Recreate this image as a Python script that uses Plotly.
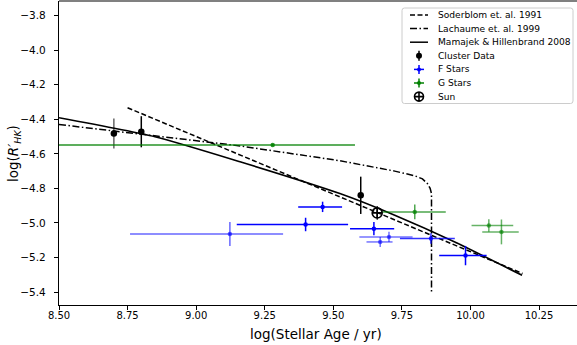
import plotly.graph_objects as go

# ---------------- data ----------------
sod_age = [8.75, 10.19]
sod_logr = [-4.333, -5.293]

lach_age = [8.50, 9.16, 9.524, 9.645, 9.724, 9.797, 9.825, 9.843, 9.853, 9.858, 9.858]
lach_logr = [-4.430, -4.554, -4.640, -4.675, -4.700, -4.727, -4.745, -4.772, -4.800, -4.830, -5.410]

mam_age = [8.50, 8.85, 9.16, 9.524, 9.724, 9.943, 10.188]
mam_logr = [-4.391, -4.501, -4.646, -4.830, -4.955, -5.110, -5.303]

cluster_age = [8.70, 8.80, 9.60]
cluster_logr = [-4.482, -4.472, -4.840]
cluster_err = [0.087, 0.090, 0.108]
cluster_alpha = [0.6, 1.0, 1.0]

f_age = [9.123, 9.399, 9.461, 9.648, 9.703, 9.671, 9.856, 9.982]
f_logr = [-5.064, -5.009, -4.907, -5.033, -5.081, -5.110, -5.090, -5.189]
f_age_lo = [0.364, 0.251, 0.089, 0.087, 0.108, 0.050, 0.113, 0.096]
f_age_hi = [0.194, 0.155, 0.071, 0.074, 0.086, 0.045, 0.087, 0.077]
f_logr_err = [0.070, 0.039, 0.030, 0.039, 0.030, 0.029, 0.030, 0.056]
f_alpha = [0.6, 1.0, 1.0, 1.0, 0.55, 0.55, 0.8, 1.0]

g_age = [9.279, 9.797, 10.067, 10.113]
g_logr = [-4.548, -4.936, -5.015, -5.052]
g_age_lo = [0.900, 0.121, 0.063, 0.070]
g_age_hi = [0.300, 0.113, 0.089, 0.063]
g_logr_err = [0.004, 0.043, 0.036, 0.072]
g_alpha = [0.85, 0.7, 0.6, 0.6]

sun_age = [9.66]
sun_logr = [-4.942]
sun_err = [0.04]

x_ticks = [8.50, 8.75, 9.00, 9.25, 9.50, 9.75, 10.00, 10.25]
y_ticks = [-3.8, -4.0, -4.2, -4.4, -4.6, -4.8, -5.0, -5.2, -5.4]

legend_labels = ["Soderblom et. al. 1991", "Lachaume et. al. 1999",
                 "Mamajek & Hillenbrand 2008", "Cluster Data",
                 "F Stars", "G Stars", "Sun"]

# ---------------- layout geometry ----------------
W, H = 577, 345
ML, MR, MT, MB = 59, 0, 1, 40
PX_PER_X = 274.3
PX_PER_Y = 172.7
X0 = 8.5
X1 = X0 + (W - ML - MR) / PX_PER_X
YT = -3.8 + (15.7 - MT) / PX_PER_Y
YB = YT - (H - MT - MB) / PX_PER_Y

FONT = "DejaVu Sans"
DASH = "5px,2.5px"
DASHDOT = "7px,2.5px,1.5px,2.5px"


def rgba(r, g, b, a):
    return f"rgba({r},{g},{b},{a})"


def px_to_paper(px, py):
    return (px - ML) / (W - ML - MR), (H - MB - py) / (H - MT - MB)


fig = go.Figure()

fig.add_trace(go.Scatter(x=sod_age, y=sod_logr, mode="lines",
                         line=dict(color="black", width=1.5, dash=DASH),
                         showlegend=False))
fig.add_trace(go.Scatter(x=lach_age, y=lach_logr, mode="lines",
                         line=dict(color="black", width=1.5, dash=DASHDOT),
                         showlegend=False))
fig.add_trace(go.Scatter(x=mam_age, y=mam_logr, mode="lines",
                         line=dict(color="black", width=1.6, shape="spline", smoothing=0.6),
                         showlegend=False))

for i in range(len(cluster_age)):
    fig.add_trace(go.Scatter(
        x=[cluster_age[i]], y=[cluster_logr[i]], mode="markers",
        marker=dict(color="black", size=6.5),
        error_y=dict(type="data", array=[cluster_err[i]], width=0, thickness=1.5,
                     color=rgba(0, 0, 0, cluster_alpha[i])),
        showlegend=False))

for i in range(len(f_age)):
    c = rgba(0, 0, 255, f_alpha[i])
    fig.add_trace(go.Scatter(
        x=[f_age[i]], y=[f_logr[i]], mode="markers",
        marker=dict(color=c, size=4.5),
        error_x=dict(type="data", symmetric=False, array=[f_age_hi[i]],
                     arrayminus=[f_age_lo[i]], width=0, thickness=1.5, color=c),
        error_y=dict(type="data", array=[f_logr_err[i]], width=0, thickness=1.5, color=c),
        showlegend=False))

for i in range(len(g_age)):
    c = rgba(0, 128, 0, g_alpha[i])
    fig.add_trace(go.Scatter(
        x=[g_age[i]], y=[g_logr[i]], mode="markers",
        marker=dict(color=c, size=4.5),
        error_x=dict(type="data", symmetric=False, array=[g_age_hi[i]],
                     arrayminus=[g_age_lo[i]], width=0, thickness=1.5, color=c),
        error_y=dict(type="data", array=[g_logr_err[i]], width=0, thickness=1.5, color=c),
        showlegend=False))

fig.add_trace(go.Scatter(
    x=sun_age, y=sun_logr, mode="markers",
    marker=dict(symbol="circle-cross-open", color="black", size=10,
                line=dict(width=1.6, color="black")),
    error_y=dict(type="data", array=sun_err, width=0, thickness=1.2, color="black"),
    showlegend=False))

# ---------------- hand-made legend (pixel overlay axes) ----------------
LX0, LX1, LY0, LY1 = 402, 573, 8, 103.5
row_y = [15 + 13.6 * k for k in range(len(legend_labels))]
hx0, hx1, hxm, tx = 410, 428, 419, 436

r = 2.5
shapes = [dict(
    type="path", xref="x2", yref="y2", layer="below",
    path=(f"M {LX0+r},{LY0} L {LX1-r},{LY0} Q {LX1},{LY0} {LX1},{LY0+r} "
          f"L {LX1},{LY1-r} Q {LX1},{LY1} {LX1-r},{LY1} L {LX0+r},{LY1} "
          f"Q {LX0},{LY1} {LX0},{LY1-r} L {LX0},{LY0+r} Q {LX0},{LY0} {LX0+r},{LY0} Z"),
    fillcolor="rgba(255,255,255,0.8)", line=dict(color="#cccccc", width=1))]

for k, dsh in enumerate([DASH, DASHDOT, "solid"]):
    shapes.append(dict(type="line", xref="x2", yref="y2", layer="above",
                       x0=hx0, x1=hx1, y0=row_y[k], y1=row_y[k],
                       line=dict(color="black", width=1.5, dash=dsh)))

# top spine (grey, as in the cropped reference)
shapes.append(dict(type="line", xref="paper", yref="paper", x0=0, x1=1, y0=1, y1=1,
                   line=dict(color="#808080", width=2)))

fig.add_trace(go.Scatter(x=[hxm], y=[row_y[3]], xaxis="x2", yaxis="y2", mode="markers",
                         marker=dict(color="black", size=6),
                         error_y=dict(type="data", array=[5], width=0, thickness=1.5, color="black"),
                         showlegend=False, cliponaxis=False))
for k, c in [(4, "rgb(0,0,255)"), (5, "rgb(0,128,0)")]:
    fig.add_trace(go.Scatter(x=[hxm], y=[row_y[k]], xaxis="x2", yaxis="y2", mode="markers",
                             marker=dict(color=c, size=4),
                             error_y=dict(type="data", array=[4.5], width=0, thickness=1.5, color=c),
                             error_x=dict(type="data", array=[5], width=0, thickness=1.5, color=c),
                             showlegend=False, cliponaxis=False))
fig.add_trace(go.Scatter(x=[hxm], y=[row_y[6]], xaxis="x2", yaxis="y2", mode="markers",
                         marker=dict(symbol="circle-cross-open", color="black", size=9,
                                     line=dict(width=1.6, color="black")),
                         showlegend=False, cliponaxis=False))

annotations = []
for k, lab in enumerate(legend_labels):
    annotations.append(dict(x=tx, y=row_y[k], xref="x2", yref="y2", text=lab,
                            showarrow=False, xanchor="left", yanchor="middle",
                            font=dict(family=FONT, size=9.1, color="black")))

# axis titles (paper coordinates)
xt, yt = px_to_paper(316, 334)
annotations.append(dict(x=xt, y=yt, xref="paper", yref="paper", text="log(Stellar Age / yr)",
                        showarrow=False, xanchor="center", yanchor="middle",
                        font=dict(family=FONT, size=13.5, color="black")))
xt, yt = px_to_paper(14, 154)
annotations.append(dict(x=xt, y=yt, xref="paper", yref="paper",
                        text="log(<i>R′<sub>HK</sub></i>)", textangle=-90,
                        showarrow=False, xanchor="center", yanchor="middle",
                        font=dict(family=FONT, size=13.5, color="black")))

fig.update_layout(
    width=W, height=H,
    margin=dict(l=ML, r=MR, t=MT, b=MB, pad=0),
    paper_bgcolor="white", plot_bgcolor="white",
    font=dict(family=FONT, color="black"),
    showlegend=False,
    shapes=shapes, annotations=annotations,
    xaxis=dict(range=[X0, X1], tickvals=x_ticks,
               ticktext=[f"{v:.2f}" for v in x_ticks],
               showgrid=False, zeroline=False, showline=True, linecolor="black",
               linewidth=1.2, ticks="outside", ticklen=4, tickwidth=1, tickcolor="black",
               ticklabelstandoff=-3,
               tickfont=dict(family=FONT, size=10, color="black")),
    yaxis=dict(range=[YB, YT], tickvals=y_ticks,
               ticktext=[f"\u2212{abs(v):.1f}" for v in y_ticks],
               showgrid=False, zeroline=False, showline=True, linecolor="black",
               linewidth=1.2, ticks="outside", ticklen=4, tickwidth=1, tickcolor="black",
               ticklabelstandoff=6,
               tickfont=dict(family=FONT, size=10.5, color="black")),
    xaxis2=dict(range=[ML, W - MR], overlaying="x", anchor="y2", visible=False),
    yaxis2=dict(range=[H - MB, MT], overlaying="y", anchor="x2", visible=False),
)

fig.write_html("out.html")
